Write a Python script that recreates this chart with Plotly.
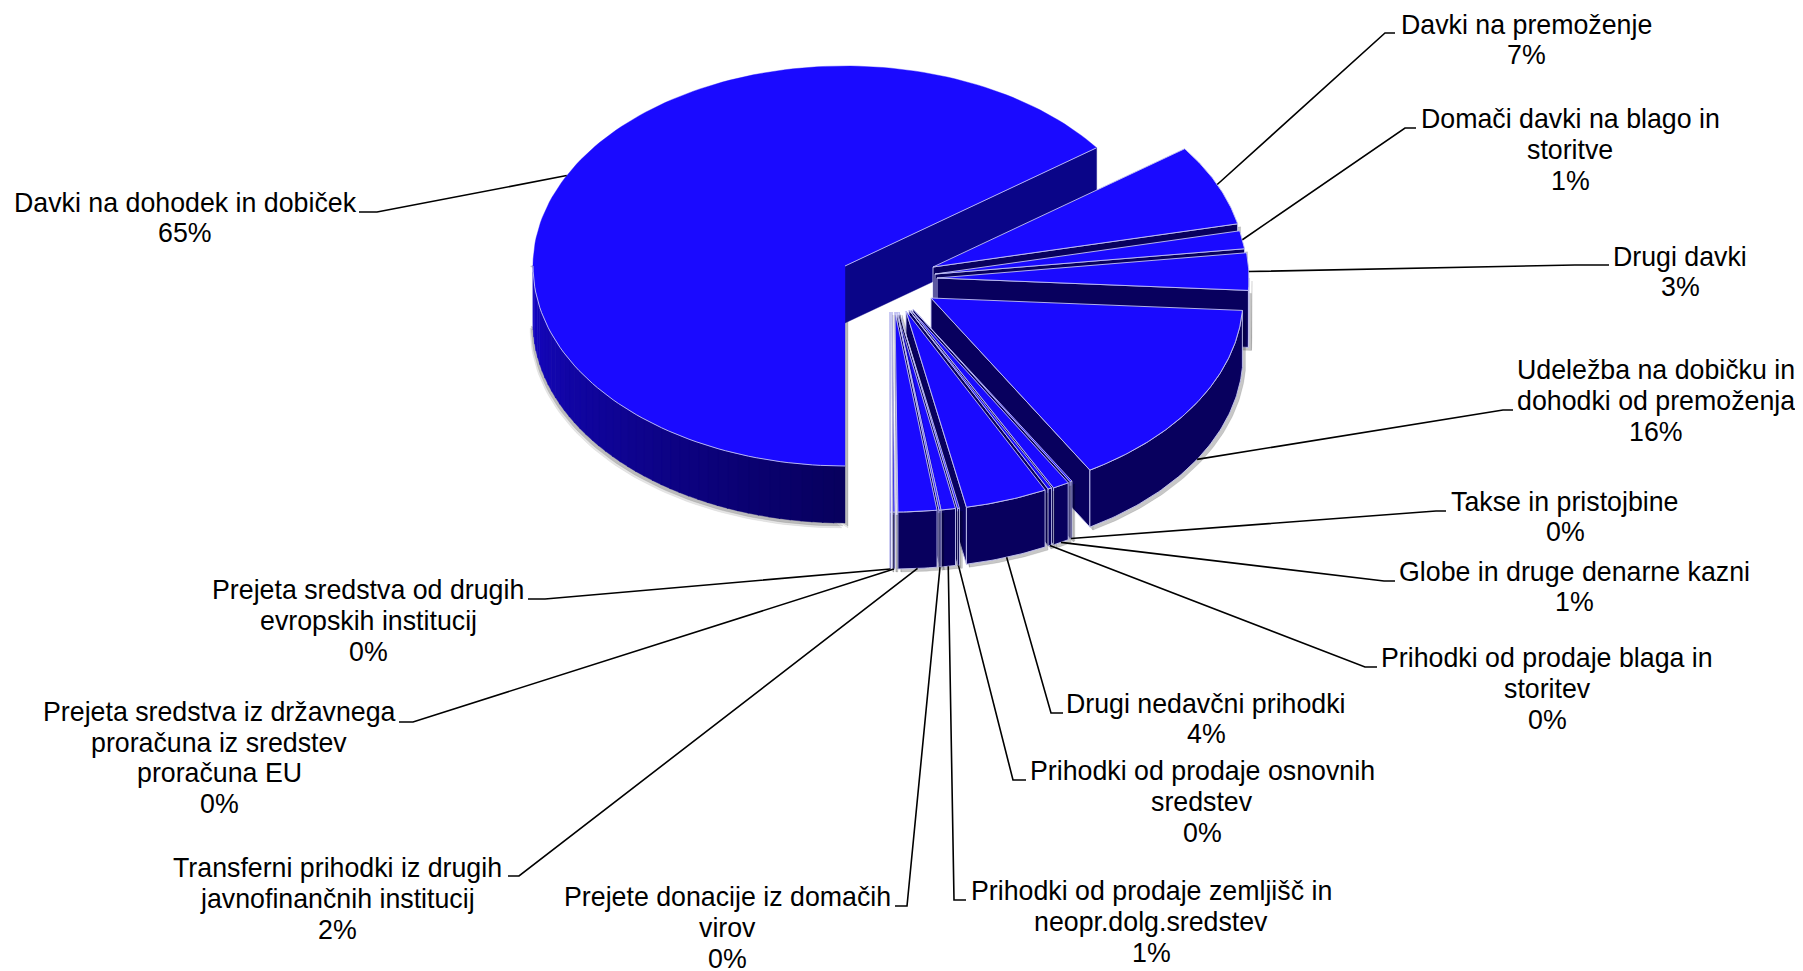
import math
import plotly.graph_objects as go

categories = [
    "Davki na dohodek in dobiček", "Davki na premoženje", "Domači davki na blago in<br>storitve",
    "Drugi davki", "Udeležba na dobičku in<br>dohodki od premoženja", "Takse in pristojbine",
    "Globe in druge denarne kazni", "Prihodki od prodaje blaga in<br>storitev", "Drugi nedavčni prihodki",
    "Prihodki od prodaje osnovnih<br>sredstev", "Prihodki od prodaje zemljišč in<br>neopr.dolg.sredstev",
    "Prejete donacije iz domačih<br>virov", "Transferni prihodki iz drugih<br>javnofinančnih institucij",
    "Prejeta sredstva iz državnega<br>proračuna iz sredstev<br>proračuna EU",
    "Prejeta sredstva od drugih<br>evropskih institucij",
]
values = [64.9, 6.6, 1.45, 3.0, 15.5, 0.1, 0.85, 0.2, 4.25, 0.1, 0.75, 0.1, 2.0, 0.1, 0.05]
percent_labels = ["65%", "7%", "1%", "3%", "16%", "0%", "1%", "0%", "4%", "0%", "1%", "0%", "2%", "0%", "0%"]

# explosion of each slice (styling)
explode_x = [0, 88, 90, 92, 86, 68, 66, 64, 61, 54, 52, 52, 50, 47, 45]
explode_y = [0, 1, 8, 12, 32, 43, 44, 44, 45, 46, 46, 46, 46, 46, 46]

# layout of the annotations
label_x = [185, 1526, 1570, 1680, 1656, 1565, 1574, 1547, 1206, 1202, 1151, 727, 337, 219, 368]
label_y = [218, 40, 150, 272, 401, 517, 587, 689, 719, 802, 922, 928, 899, 758, 621]
elbow_x = [377, 1385, 1405, 1575, 1503, 1436, 1384, 1365, 1051, 1013, 954, 907, 519, 413, 545]
stub_x = [359, 1395, 1416, 1609, 1513, 1446, 1395, 1377, 1063, 1026, 966, 895, 508, 399, 528]
elbow_y = [212, 33, 128, 265, 410, 511, 581, 667, 713, 780, 900, 906, 876, 722, 599]
LINE_GAP = 30.8
FONT_SIZE = 26.75

CX, CY, RX, RY, DEPTH = 845, 266, 312, 200, 57
FIRST_ANGLE = 180.0
TOP = "#1a0aff"
SIDE = "#08005e"
CUT = "#0a0588"
EDGE = "#c4c4f2"
OFFX, OFFY = 8, 8


def rim(angle, cx, cy):
    a = math.radians(angle)
    return cx + RX * math.sin(a), cy - RY * math.cos(a)


def arc(a0, a1, cx, cy, step=1.5):
    n = max(2, int(abs(a1 - a0) / step) + 1)
    pts = [rim(a0 + (a1 - a0) * i / (n - 1), cx, cy) for i in range(n)]
    return [p[0] for p in pts], [p[1] for p in pts]


fig = go.Figure()


def poly(xs, ys, fill, line=None, width=1.0):
    fig.add_trace(go.Scatter(
        x=list(xs) + [xs[0]], y=list(ys) + [ys[0]], mode="lines", fill="toself", fillcolor=fill,
        line=dict(color=line or fill, width=width if line else 0.4), hoverinfo="skip", showlegend=False))


total = sum(values)
angle = FIRST_ANGLE
spans = []
for i, v in enumerate(values):
    sweep = v / total * 360
    # after the first slice the angles wrap past the top of the pie
    start = angle if i == 0 else angle - 360
    spans.append((start, start + sweep))
    angle += sweep

# painter's order: main slice first, then slices clockwise from the top right
for i, (a0, a1) in enumerate(spans):
    cx, cy = CX + explode_x[i], CY + explode_y[i]
    if i == 0:
        # shadow
        ax, ay = arc(180, 270, cx, cy)
        for off, col in ((5, "rgba(0,0,0,0.10)"), (3, "rgba(0,0,0,0.18)")):
            sx = [x - off * 0.6 for x in ax] + [cx + 3]
            sy = [y + DEPTH + off for y in ay] + [cy + RY + DEPTH + off]
            poly(sx + [cx + 3, ax[-1] - off * 0.6], sy + [cy, ay[-1]], col)
        # curved wall with its shading
        strips = 45
        for k in range(strips):
            s0 = 180 + 90 * k / strips
            s1 = 180 + 90 * (k + 1) / strips + 0.2
            t = k / (strips - 1)
            col = "rgb(%d,%d,%d)" % (8 + 14 * t, 0 + 8 * t, 94 + 102 * t)
            xa, ya = arc(s0, s1, cx, cy, 0.5)
            poly(xa + xa[::-1], ya + [y + DEPTH for y in ya[::-1]], col)
        # cut face on the clockwise end
        ex, ey = rim(a1, cx, cy)
        poly([cx, ex, ex, cx], [cy, ey, ey + DEPTH, cy + DEPTH], CUT)
        tx, ty = arc(a0, a1, cx, cy)
        poly([cx] + tx, [cy] + ty, TOP)
        # light outline only along the front rim and the cut edge
        lx, ly = arc(180, 270, cx, cy)
        fig.add_trace(go.Scatter(x=lx, y=ly, mode="lines", line=dict(color=EDGE, width=0.9),
                                 hoverinfo="skip", showlegend=False))
        fig.add_trace(go.Scatter(x=[cx, ex], y=[cy, ey], mode="lines", line=dict(color=EDGE, width=0.9),
                                 hoverinfo="skip", showlegend=False))
        continue
    ex, ey = rim(a1, cx, cy)
    xw, yw = arc(max(a0, 90), max(a1, 90), cx, cy, 0.8)
    # shadow
    sh_x = [cx, ex, ex, cx]
    sh_y = [cy, ey, ey + DEPTH, cy + DEPTH]
    poly([x + 3 for x in sh_x], [y + 3 for y in sh_y], "rgba(0,0,0,0.22)")
    if a1 > 90:
        poly([x + 3 for x in xw] + [x + 3 for x in xw[::-1]],
             [y + 3 for y in yw] + [y + DEPTH + 3 for y in yw[::-1]], "rgba(0,0,0,0.22)")
    # radial face on the clockwise end
    poly([cx, ex, ex, cx], [cy, ey, ey + DEPTH, cy + DEPTH], SIDE, EDGE, 0.9)
    # curved wall
    if a1 > 90:
        poly(xw + xw[::-1], yw + [y + DEPTH for y in yw[::-1]], SIDE, EDGE, 0.9)
    tx, ty = arc(a0, a1, cx, cy, 0.5)
    poly([cx] + tx, [cy] + ty, TOP, EDGE, 0.9)

# leader lines
for i, (a0, a1) in enumerate(spans):
    mid = (a0 + a1) / 2
    cx, cy = CX + explode_x[i], CY + explode_y[i]
    px, py = rim(mid, cx, cy)
    if 90 < mid < 270:
        py += DEPTH
    fig.add_trace(go.Scatter(x=[stub_x[i], elbow_x[i], px], y=[elbow_y[i], elbow_y[i], py], mode="lines",
                             line=dict(color="black", width=1.6), hoverinfo="skip", showlegend=False))

annotations = []
for i, cat in enumerate(categories):
    lines = cat.split("<br>") + [percent_labels[i]]
    for j, txt in enumerate(lines):
        annotations.append(dict(
            x=label_x[i], y=label_y[i] + (j - (len(lines) - 1) / 2) * LINE_GAP, xref="x", yref="y",
            showarrow=False, xanchor="center", yanchor="middle", text=txt,
            font=dict(family="Liberation Sans", size=FONT_SIZE, color="black")))

fig.update_layout(
    width=1803, height=971, margin=dict(l=0, r=0, t=0, b=0), showlegend=False,
    paper_bgcolor="white", plot_bgcolor="white", annotations=annotations,
    xaxis=dict(range=[OFFX, 1803 + OFFX], visible=False, fixedrange=True),
    yaxis=dict(range=[971 + OFFY, OFFY], visible=False, fixedrange=True),
)
fig.write_html("out.html")
